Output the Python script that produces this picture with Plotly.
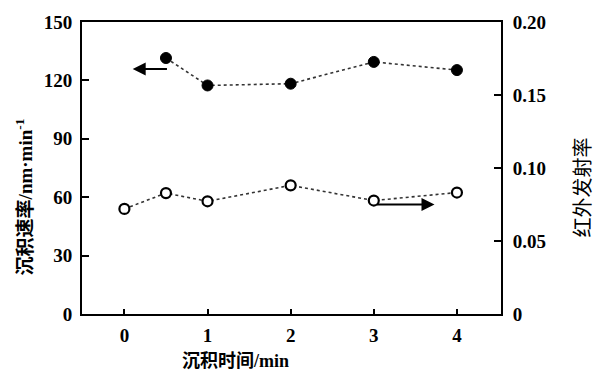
import plotly.graph_objects as go

# Data
rate_x = [0.5, 1, 2, 3, 4]
rate_y = [131.5, 117.4, 118.3, 129.5, 125.3]          # 沉积速率 nm/min
emis_x = [0, 0.5, 1, 2, 3, 4]
emis_y = [0.072, 0.0828, 0.0772, 0.0881, 0.0777, 0.0832]  # 红外发射率
x_ticks = [0, 1, 2, 3, 4]
y1_ticks = [0, 30, 60, 90, 120, 150]
y2_ticks = [0, 0.05, 0.10, 0.15, 0.20]
y2_labels = ["0", "0.05", "0.10", "0.15", "0.20"]

serif = "Liberation Serif, Noto Sans CJK SC"
cjk = "Liberation Serif, Noto Sans CJK SC"

fig = go.Figure()
fig.add_trace(go.Scatter(
    x=rate_x, y=rate_y, mode="lines+markers", yaxis="y",
    line=dict(color="#333333", width=1.6, dash="dot"),
    marker=dict(symbol="circle", size=11, color="black", line=dict(color="black", width=1)),
    showlegend=False))
fig.add_trace(go.Scatter(
    x=emis_x, y=emis_y, mode="lines+markers", yaxis="y2",
    line=dict(color="#333333", width=1.6, dash="dot"),
    marker=dict(symbol="circle", size=10, color="white", line=dict(color="black", width=2.2)),
    showlegend=False))

# arrows
fig.add_annotation(x=0.10, y=125.8, ax=0.53, ay=125.8, xref="x", yref="y", axref="x", ayref="y",
                   showarrow=True, arrowhead=2, arrowsize=1.3, arrowwidth=2, arrowcolor="black", text="")
fig.add_annotation(x=3.73, y=56.2, ax=3.02, ay=56.2, xref="x", yref="y", axref="x", ayref="y",
                   showarrow=True, arrowhead=2, arrowsize=1.3, arrowwidth=2, arrowcolor="black", text="")

# titles
fig.add_annotation(x=(235 - 82) / 419, y=(314 - 362) / 298, xref="paper", yref="paper",
                   xanchor="center", yanchor="middle",
                   text="<b>沉积时间/min</b>", showarrow=False,
                   font=dict(family=cjk, size=18, color="black"))
fig.add_annotation(x=(24 - 82) / 419, y=(314 - 195) / 298, xref="paper", yref="paper",
                   xanchor="center", yanchor="middle",
                   text="<b>沉积速率/nm·min<sup>-1</sup></b>", showarrow=False, textangle=-90,
                   font=dict(family=cjk, size=19, color="black"))
fig.add_annotation(x=(583 - 82) / 419, y=(314 - 185) / 298, xref="paper", yref="paper",
                   xanchor="center", yanchor="middle",
                   text="红外发射率", showarrow=False, textangle=-90,
                   font=dict(family=cjk, size=20, color="black"))

fig.update_layout(
    width=594, height=374,
    margin=dict(l=82, r=93, t=16, b=60),
    paper_bgcolor="white", plot_bgcolor="white",
    xaxis=dict(range=[-0.51, 4.53], tickvals=x_ticks, ticks="inside", ticklen=5, tickwidth=1.5,
               tickcolor="black", showline=True, linecolor="black", linewidth=2, mirror=True,
               showgrid=False, zeroline=False, ticklabelstandoff=3,
               tickfont=dict(family=serif, size=19, color="black", weight="bold")),
    yaxis=dict(range=[0, 150], tickvals=y1_ticks, ticks="inside", ticklen=7, tickwidth=1.5,
               tickcolor="black", showline=True, linecolor="black", linewidth=2, mirror=True,
               showgrid=False, zeroline=False, ticklabelstandoff=4,
               tickfont=dict(family=serif, size=19, color="black", weight="bold")),
    yaxis2=dict(range=[0, 0.20], tickvals=y2_ticks, ticktext=y2_labels, overlaying="y", side="right",
                ticks="inside", ticklen=7, tickwidth=1.5, tickcolor="black", showline=True,
                linecolor="black", linewidth=2, showgrid=False, zeroline=False, ticklabelstandoff=6,
                tickfont=dict(family=serif, size=19, color="black", weight="bold")),
)

fig.write_html("out.html")
